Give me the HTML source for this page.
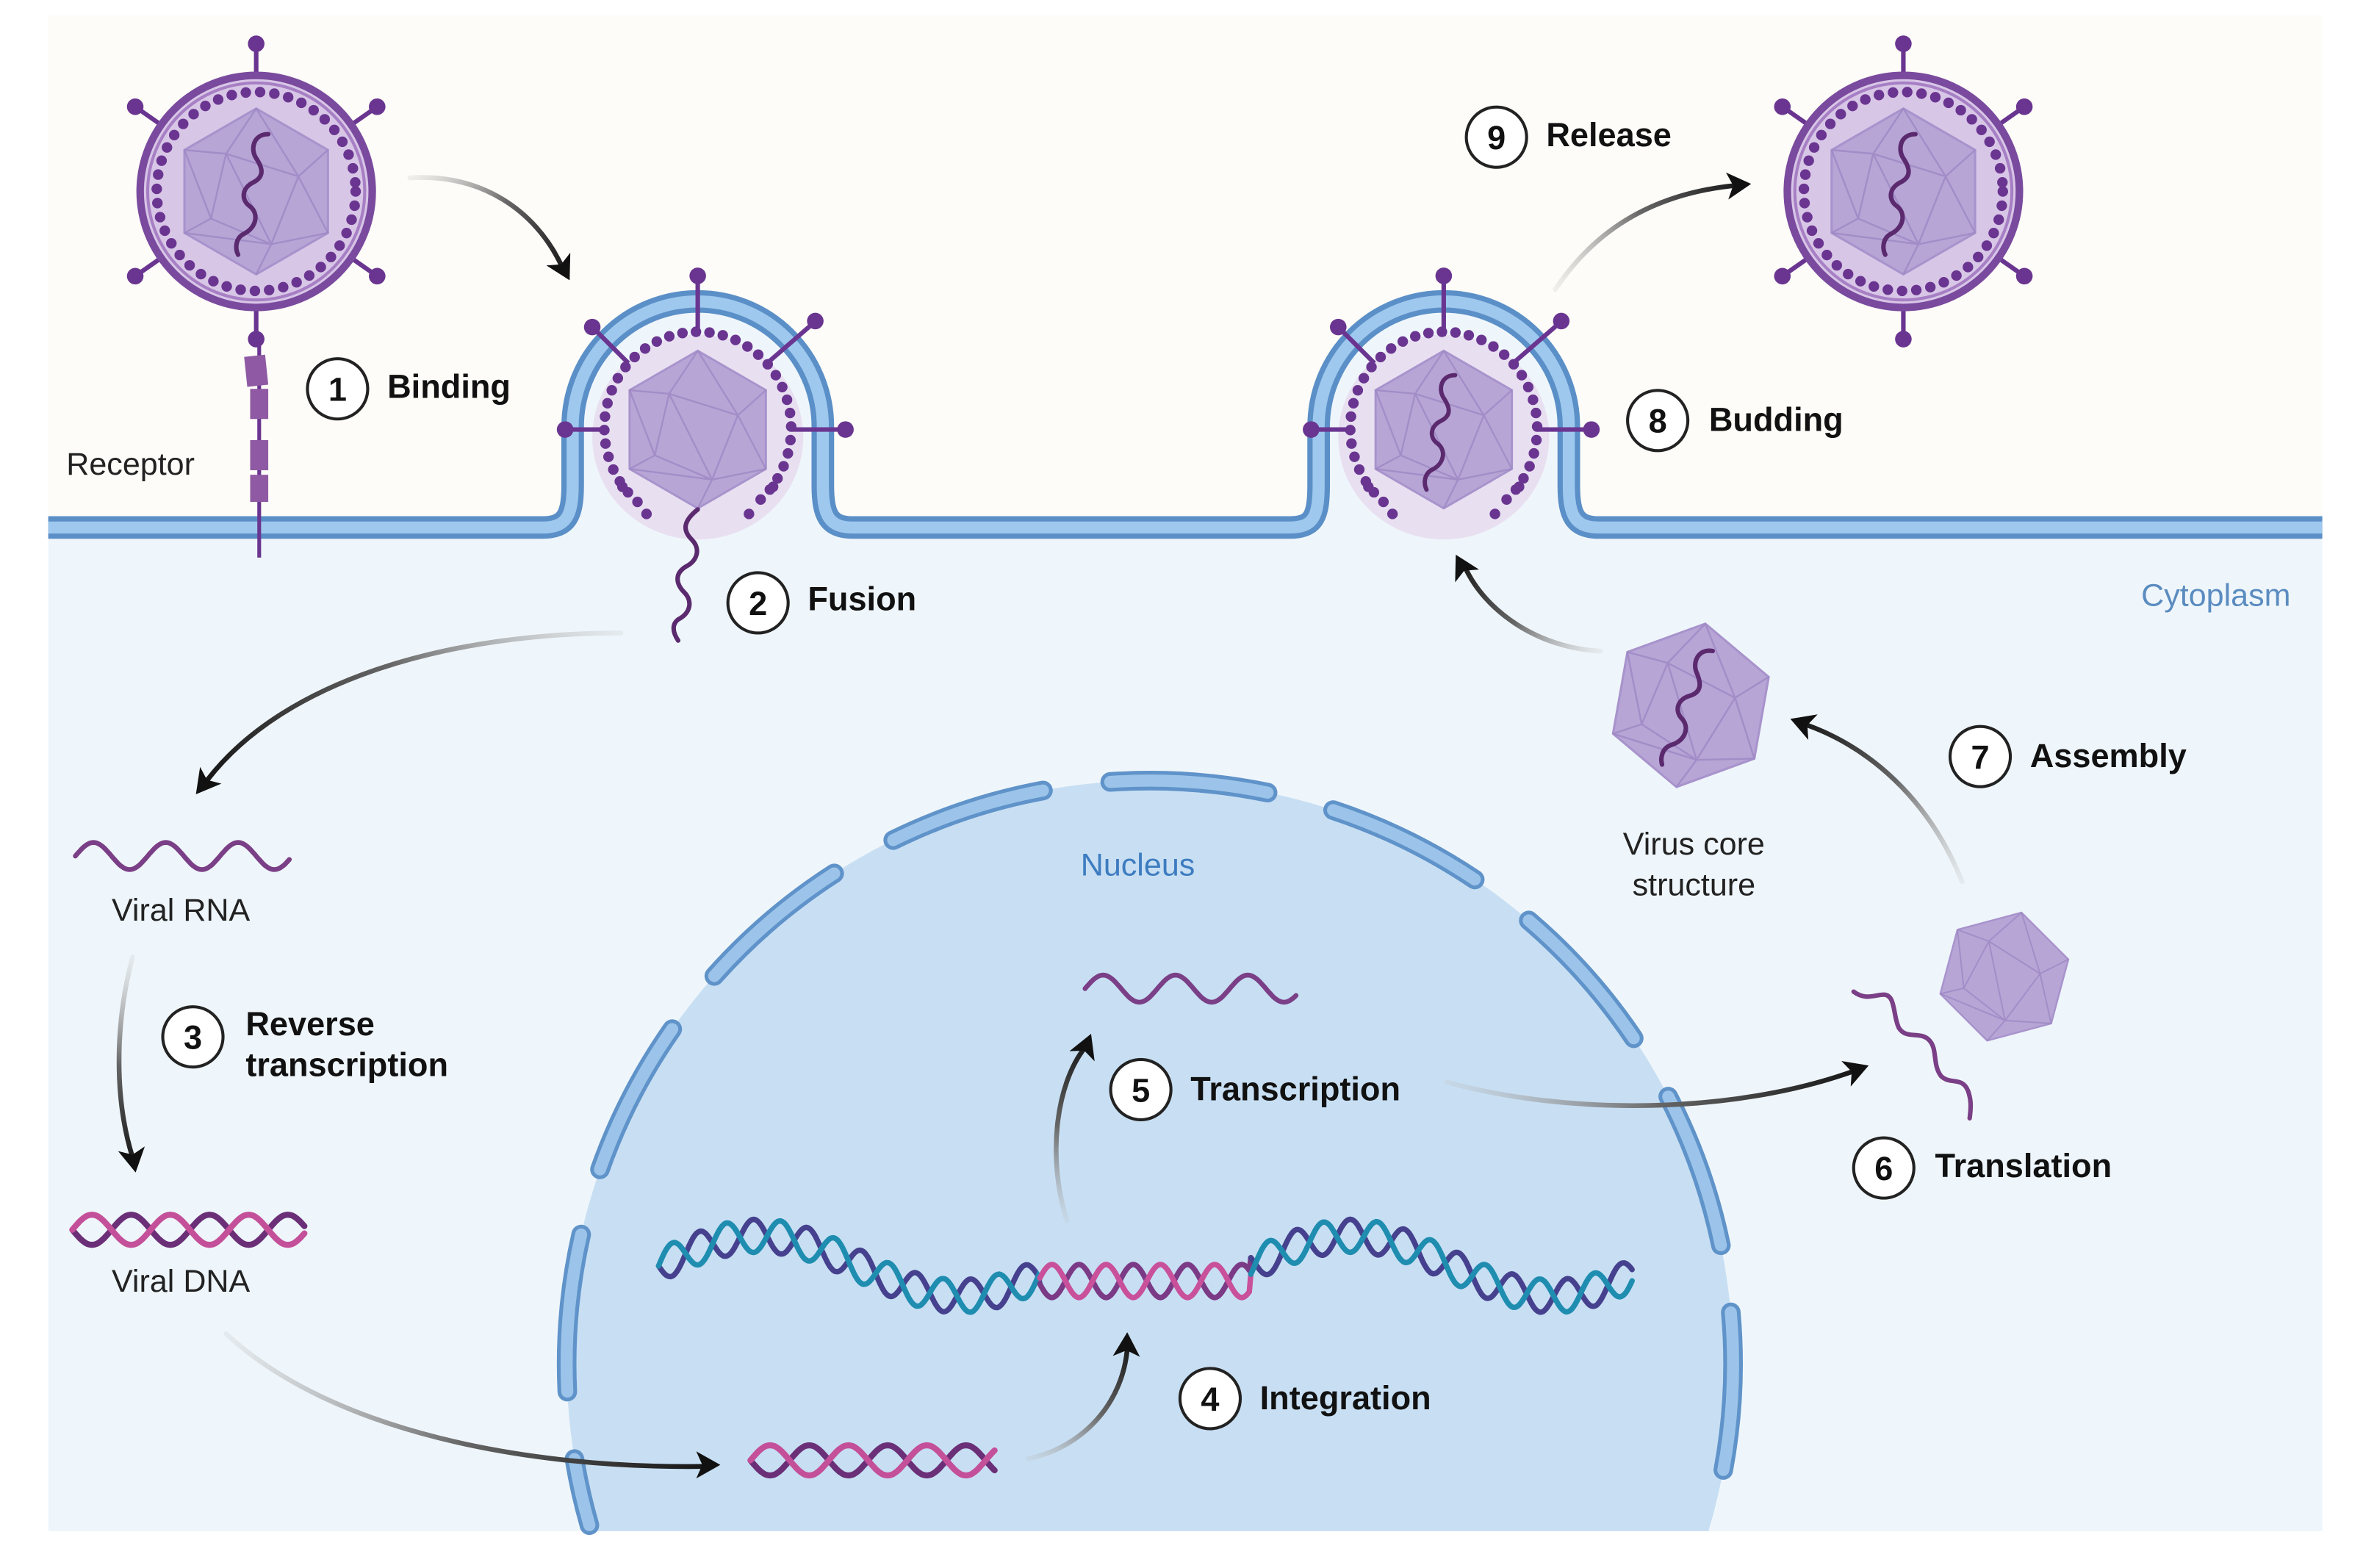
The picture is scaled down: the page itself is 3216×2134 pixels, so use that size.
<!DOCTYPE html>
<html><head><meta charset="utf-8">
<style>
html,body{margin:0;padding:0;background:#fff;width:3216px;height:2134px;overflow:hidden;position:relative;}
svg{display:block;position:absolute;left:0;top:0;}
text{font-family:"Liberation Sans",sans-serif;}
.b{font-weight:bold;font-size:22px;fill:#111;}
.n{font-weight:bold;font-size:22px;fill:#111;text-anchor:middle;}
.l{font-size:21px;fill:#222;}
</style></head>
<body>
<svg id="s" width="3216" height="2134" viewBox="0 0 1568 1040.4" xmlns="http://www.w3.org/2000/svg">
<defs>
  <g id="hex">
    <polygon points="0,-55 47.6,-27.5 47.6,27.5 0,55 -47.6,27.5 -47.6,-27.5" fill="#b7a5d6" stroke="#a893cc" stroke-width="1.5"/>
    <g stroke="#9e88c4" stroke-width="1.2" fill="none" opacity="0.8">
      <polygon points="-20,-25 28,-10 10,35 -30,18"/>
      <path d="M0,-55 L-20,-25 M0,-55 L28,-10 M47.6,-27.5 L28,-10 M47.6,27.5 L28,-10 M47.6,27.5 L10,35 M0,55 L10,35 M-47.6,27.5 L-30,18 M-47.6,27.5 L10,35 M-47.6,-27.5 L-20,-25 M-47.6,-27.5 L-30,18 M-20,-25 L10,35"/>
    </g>
  </g>
  <path id="rna" d="M8,-38 c-10,0 -12,10 -8,16 c4,6 6,12 -2,16 c-8,4 -8,12 -2,16 c6,5 4,14 -4,18 c-6,3 -6,10 -4,14" fill="none" stroke="#5b2a6e" stroke-width="3" stroke-linecap="round"/>
  <g id="spike">
    <line x1="0" y1="-76" x2="0" y2="-98" stroke="#6a3590" stroke-width="3"/>
    <circle cx="0" cy="-98" r="5.5" fill="#6a3590"/>
  </g>
  <g id="virus">
    <use href="#spike"/><use href="#spike" transform="rotate(55)"/><use href="#spike" transform="rotate(125)"/>
    <use href="#spike" transform="rotate(180)"/><use href="#spike" transform="rotate(235)"/><use href="#spike" transform="rotate(305)"/>
    <circle r="77" fill="#d8c6e7" stroke="#7a4a9e" stroke-width="5"/>
    <circle r="72" fill="none" stroke="#a77fc4" stroke-width="2"/>
    <circle r="66" fill="none" stroke="#6a3590" stroke-width="7" stroke-dasharray="0 9.5" stroke-linecap="round"/>
    <use href="#hex"/>
    <use href="#rna"/>
  </g>
</defs>

<rect x="32" y="10" width="1509" height="1006" fill="#fdfcf8"/>
<path d="M32,350 H360 C376,350 380,342 380,322 V283 A83,83 0 0 1 546,283 V322 C546,342 550,350 566,350 H856 C872,350 875,342 875,322 V283 A83,83 0 0 1 1041,283 V322 C1041,342 1045,350 1061,350 H1541 V1016 H32 Z" fill="#eff6fb"/>

<path d="M392.3,1016 A387,387 0 1 1 1133.7,1016 Z" fill="#c8dff3"/>
<path d="M391.1,1012 A387,387 0 1 1 1134.9,1012" fill="none" stroke="#5f93c9" stroke-width="13" stroke-dasharray="105 45" stroke-dashoffset="60" stroke-linecap="round"/>
<path d="M391.1,1012 A387,387 0 1 1 1134.9,1012" fill="none" stroke="#9cc4ea" stroke-width="8" stroke-dasharray="105 45" stroke-dashoffset="60" stroke-linecap="round"/>

<ellipse cx="463" cy="290" rx="70" ry="68" fill="#e8e0f1"/>
<ellipse cx="958" cy="290" rx="70" ry="68" fill="#e8e0f1"/>

<path d="M32,350 H360 C376,350 380,342 380,322 V283 A83,83 0 0 1 546,283 V322 C546,342 550,350 566,350 H856 C872,350 875,342 875,322 V283 A83,83 0 0 1 1041,283 V322 C1041,342 1045,350 1061,350 H1541" fill="none" stroke="#5b8fc7" stroke-width="15"/>
<path d="M32,350 H360 C376,350 380,342 380,322 V283 A83,83 0 0 1 546,283 V322 C546,342 550,350 566,350 H856 C872,350 875,342 875,322 V283 A83,83 0 0 1 1041,283 V322 C1041,342 1045,350 1061,350 H1541" fill="none" stroke="#9fc8ee" stroke-width="8"/>

<use href="#virus" x="170" y="127"/>
<use href="#virus" x="1263" y="127"/>

<line x1="172" y1="228" x2="172" y2="370" stroke="#6a3590" stroke-width="2.5"/>
<g fill="#8f5aa3">
<rect x="163" y="236" width="14" height="20" transform="rotate(-6 170 246)"/>
<rect x="166" y="258" width="12" height="20"/>
<rect x="166" y="292" width="12" height="20"/>
<rect x="166" y="315" width="12" height="18"/>
</g>

<g transform="translate(463,285)">
  <line x1="0" y1="-62" x2="0" y2="-100" stroke="#6a3590" stroke-width="3"/><circle cx="0" cy="-102" r="5.5" fill="#6a3590"/>
  <line x1="-46" y1="-44" x2="-68" y2="-66" stroke="#6a3590" stroke-width="3"/><circle cx="-70" cy="-68" r="5.5" fill="#6a3590"/>
  <line x1="46" y1="-44" x2="76" y2="-70" stroke="#6a3590" stroke-width="3"/><circle cx="78" cy="-72" r="5.5" fill="#6a3590"/>
  <line x1="-62" y1="0" x2="-87" y2="0" stroke="#6a3590" stroke-width="3"/><circle cx="-88" cy="0" r="5.5" fill="#6a3590"/>
  <line x1="62" y1="0" x2="97" y2="0" stroke="#6a3590" stroke-width="3"/><circle cx="98" cy="0" r="5.5" fill="#6a3590"/>
  <path d="M-40,48 A62,64 0 1 1 40,48" fill="none" stroke="#6a3590" stroke-width="7" stroke-dasharray="0 9" stroke-linecap="round"/>
  <circle cx="-34" cy="56" r="3.5" fill="#6a3590"/><circle cx="34" cy="56" r="3.5" fill="#6a3590"/>
  <circle cx="-50" cy="38" r="3.5" fill="#6a3590"/><circle cx="50" cy="38" r="3.5" fill="#6a3590"/>
  <g transform="scale(0.95)"><use href="#hex"/></g>
</g>
<path d="M463,338 c-10,8 -10,14 -4,20 c6,6 4,14 -4,18 c-8,5 -6,12 -1,17 c6,6 4,14 -4,18 c-4,3 -4,8 0,14" fill="none" stroke="#5b2a6e" stroke-width="3" stroke-linecap="round"/>

<g transform="translate(958,285)">
  <line x1="0" y1="-62" x2="0" y2="-100" stroke="#6a3590" stroke-width="3"/><circle cx="0" cy="-102" r="5.5" fill="#6a3590"/>
  <line x1="-46" y1="-44" x2="-68" y2="-66" stroke="#6a3590" stroke-width="3"/><circle cx="-70" cy="-68" r="5.5" fill="#6a3590"/>
  <line x1="46" y1="-44" x2="76" y2="-70" stroke="#6a3590" stroke-width="3"/><circle cx="78" cy="-72" r="5.5" fill="#6a3590"/>
  <line x1="-62" y1="0" x2="-87" y2="0" stroke="#6a3590" stroke-width="3"/><circle cx="-88" cy="0" r="5.5" fill="#6a3590"/>
  <line x1="62" y1="0" x2="97" y2="0" stroke="#6a3590" stroke-width="3"/><circle cx="98" cy="0" r="5.5" fill="#6a3590"/>
  <path d="M-40,48 A62,64 0 1 1 40,48" fill="none" stroke="#6a3590" stroke-width="7" stroke-dasharray="0 9" stroke-linecap="round"/>
  <circle cx="-34" cy="56" r="3.5" fill="#6a3590"/><circle cx="34" cy="56" r="3.5" fill="#6a3590"/>
  <circle cx="-50" cy="38" r="3.5" fill="#6a3590"/><circle cx="50" cy="38" r="3.5" fill="#6a3590"/>
  <g transform="scale(0.95)"><use href="#hex"/><use href="#rna"/></g>
</g>

<g transform="translate(1122,468) rotate(10)"><use href="#hex"/><use href="#rna"/></g>
<g transform="translate(1330,648) rotate(15) scale(0.8)"><use href="#hex"/></g>
<path d="M1230,658 c8,6 14,2 20,2 c8,0 6,14 10,22 c5,8 14,2 20,8 c6,6 2,16 8,24 c6,6 14,0 18,10 c2,6 2,10 1,18" fill="none" stroke="#7a3f86" stroke-width="3" stroke-linecap="round"/>

<g id="waves"></g>
<g id="arrows" fill="none" stroke-width="3.2" stroke-linecap="round"></g>

<g fill="#fff" stroke="#222" stroke-width="2">
<circle cx="224" cy="258" r="20"/><circle cx="503" cy="400" r="20"/><circle cx="128" cy="688" r="20"/>
<circle cx="803" cy="928" r="20"/><circle cx="757" cy="723" r="20"/><circle cx="1250" cy="775" r="20"/>
<circle cx="1314" cy="502" r="20"/><circle cx="1100" cy="279" r="20"/><circle cx="993" cy="91" r="20"/>
</g>
<text class="n" x="224" y="266">1</text><text class="n" x="503" y="408">2</text><text class="n" x="128" y="696">3</text>
<text class="n" x="803" y="936">4</text><text class="n" x="757" y="731">5</text><text class="n" x="1250" y="783">6</text>
<text class="n" x="1314" y="510">7</text><text class="n" x="1100" y="287">8</text><text class="n" x="993" y="99">9</text>
<text class="b" x="257" y="264">Binding</text>
<text class="b" x="536" y="405">Fusion</text>
<text class="b" x="163" y="687">Reverse</text>
<text class="b" x="163" y="714">transcription</text>
<text class="b" x="836" y="935">Integration</text>
<text class="b" x="790" y="730">Transcription</text>
<text class="b" x="1284" y="781">Translation</text>
<text class="b" x="1347" y="509">Assembly</text>
<text class="b" x="1134" y="286">Budding</text>
<text class="b" x="1026" y="97">Release</text>
<text class="l" x="44" y="315">Receptor</text>
<text class="l" x="120" y="611" text-anchor="middle">Viral RNA</text>
<text class="l" x="120" y="857" text-anchor="middle">Viral DNA</text>
<text class="l" x="1124" y="567" text-anchor="middle">Virus core</text>
<text class="l" x="1124" y="594" text-anchor="middle">structure</text>
<text class="l" x="755" y="581" text-anchor="middle" style="fill:#3d7cc0">Nucleus</text>
<text class="l" x="1520" y="402" text-anchor="end" style="fill:#5b8cc0">Cytoplasm</text>
</svg>
<script>
(function(){
var NS="http://www.w3.org/2000/svg";
var W=document.getElementById("waves"),A=document.getElementById("arrows"),defs=document.querySelector("defs");
function path(d,col,w,parent){var p=document.createElementNS(NS,"path");p.setAttribute("d",d);p.setAttribute("fill","none");p.setAttribute("stroke",col);p.setAttribute("stroke-width",w);p.setAttribute("stroke-linecap","round");(parent||W).appendChild(p);return p;}
function wave(x0,x1,yf,amp,per,ph){var d="";for(var x=x0;x<=x1;x+=1){var y=yf(x)+amp*Math.sin((x-x0)/per*2*Math.PI+ph);d+=(x==x0?"M":"L")+x.toFixed(1)+","+y.toFixed(1);}return d;}
path(wave(50,192,function(){return 568},9,48,Math.PI),"#7a3f86",3.2);
path(wave(720,860,function(){return 656},9,48,Math.PI),"#7a3f86",3.2);
path(wave(48,202,function(){return 816},10,52,0),"#6b2f78",4);
path(wave(48,202,function(){return 816},10,52,Math.PI),"#c4509a",4);
path(wave(498,660,function(){return 969},10,52,0),"#6b2f78",4);
path(wave(498,660,function(){return 969},10,52,Math.PI),"#c4509a",4);
function ax(x){
 if(x<690){return 840-20*Math.sin((x-437)/253*2*Math.PI*0.95);}
 if(x<830){return 850;}
 return 840-20*Math.sin((x-830)/253*2*Math.PI*0.95);
}
function hw(a,b,c1,c2){
 var d1="",d2="";for(var x=a;x<=b;x++){var t=(x-437)/36*2*Math.PI;var y=ax(x);d1+=(x==a?"M":"L")+x+","+(y+11*Math.sin(t)).toFixed(1);d2+=(x==a?"M":"L")+x+","+(y-11*Math.sin(t)).toFixed(1);}
 path(d1,c1,3.6);path(d2,c2,3.6);
}
hw(437,690,"#46418e","#1f8db0");
hw(690,830,"#7b3a86","#c9509a");
hw(830,1083,"#46418e","#1f8db0");
var n=0;
function arrow(d,x1,y1,x2,y2,hx,hy,ang){
 n++;var g=document.createElementNS(NS,"linearGradient");g.setAttribute("id","g"+n);g.setAttribute("gradientUnits","userSpaceOnUse");
 g.setAttribute("x1",x1);g.setAttribute("y1",y1);g.setAttribute("x2",x2);g.setAttribute("y2",y2);
 g.innerHTML='<stop offset="0" stop-color="#bbb" stop-opacity="0.2"/><stop offset="0.5" stop-color="#666"/><stop offset="1" stop-color="#111"/>';
 defs.appendChild(g);
 path(d,"url(#g"+n+")",3.2,A);
 var p=document.createElementNS(NS,"polygon");p.setAttribute("points","0,0 -16,-9 -12,0 -16,9");p.setAttribute("fill","#111");
 p.setAttribute("transform","translate("+hx+","+hy+") rotate("+ang+")");A.appendChild(p);
}
arrow("M272,118 C320,115 355,140 372,175",272,118,378,185,378,186,62);
arrow("M412,420 C300,420 190,450 138,517",412,420,130,527,130,527,128);
arrow("M88,635 C76,680 76,730 88,768",88,635,90,778,90,778,80);
arrow("M150,885 C220,950 350,975 470,973",150,885,478,972,478,972,0);
arrow("M682,968 C720,960 745,930 748,895",682,968,748,885,748,884,-88);
arrow("M708,810 C695,770 700,720 720,695",708,810,725,688,724,686,-68);
arrow("M960,718 C1040,740 1150,740 1232,710",960,718,1240,708,1240,707,-20);
arrow("M1302,585 C1280,530 1240,495 1196,480",1302,585,1188,478,1188,477,-160);
arrow("M1062,432 C1020,430 985,405 972,376",1062,432,965,368,966,368,-118);
arrow("M1032,192 C1060,150 1100,128 1152,123",1032,192,1162,122,1162,122,-5);
})();
</script>
</body></html>
